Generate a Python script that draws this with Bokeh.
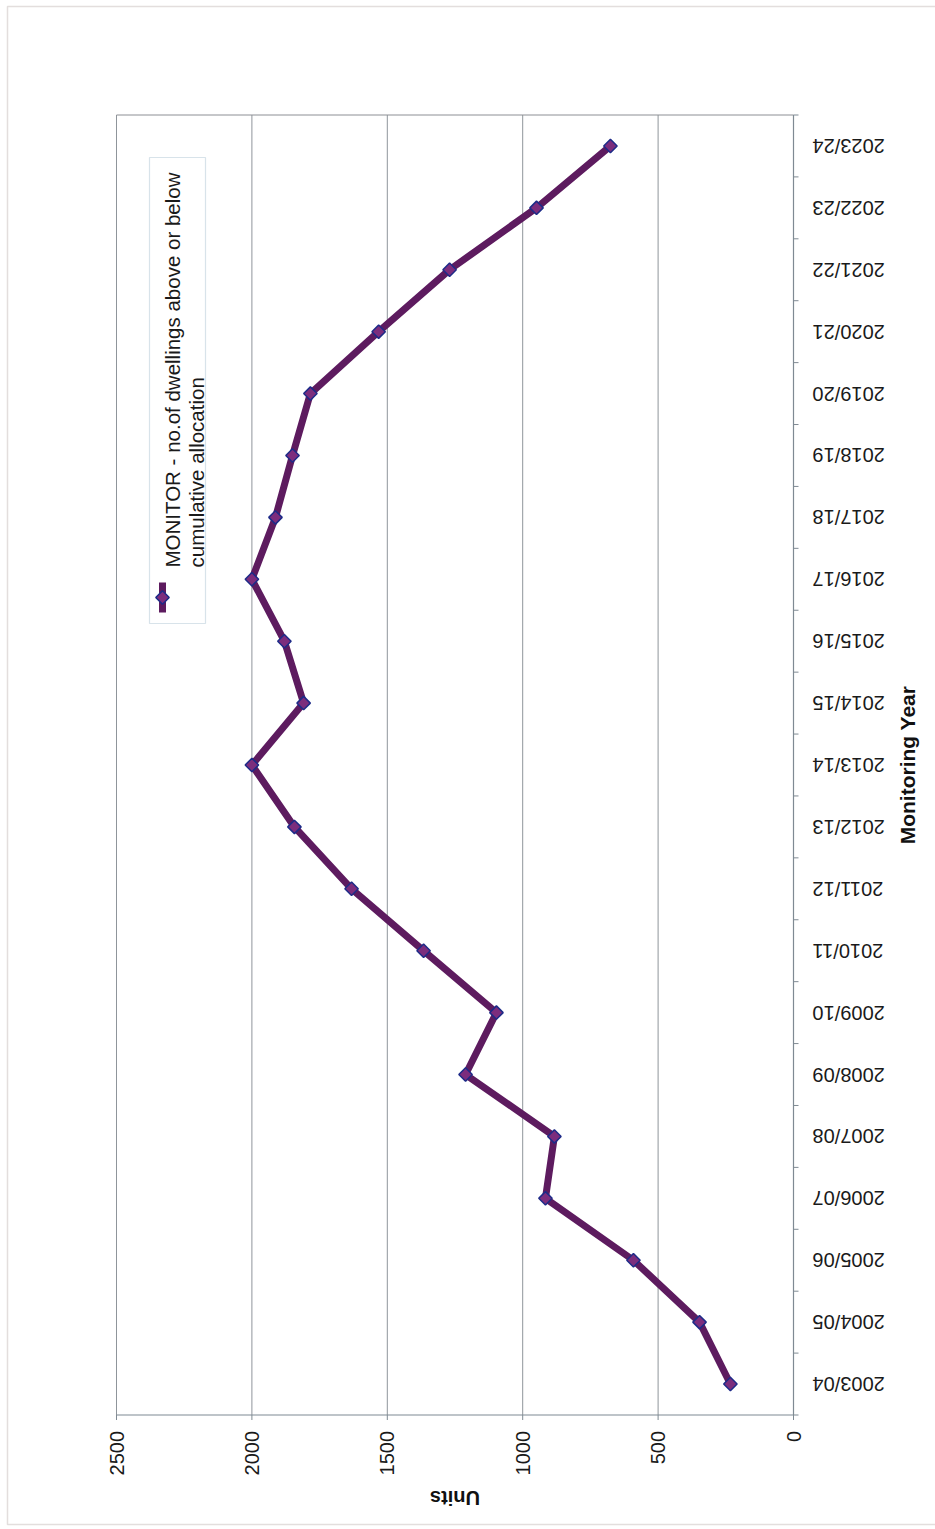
from math import pi

from bokeh.core.properties import value
from bokeh.embed import file_html
from bokeh.models import (BoxAnnotation, ColumnDataSource, FactorRange, Label, Range1d)
from bokeh.plotting import figure
from bokeh.resources import INLINE

# Monitoring years (bottom to top) and dwellings above/below cumulative allocation
years = ["2003/04", "2004/05", "2005/06", "2006/07", "2007/08", "2008/09", "2009/10",
         "2010/11", "2011/12", "2012/13", "2013/14", "2014/15", "2015/16", "2016/17",
         "2017/18", "2018/19", "2019/20", "2020/21", "2021/22", "2022/23", "2023/24"]
dwellings = [233, 347, 591, 916, 883, 1211, 1097, 1366, 1632, 1843, 2000, 1809, 1880,
             2000, 1913, 1850, 1784, 1532, 1270, 949, 676]
unit_ticks = [0, 500, 1000, 1500, 2000, 2500]

series_name = "MONITOR - no.of dwellings above or below\ncumulative allocation"
year_title = "Monitoring Year"
units_title = "Units"

# The chart sits sideways on a portrait page; the plotting frame covers the
# whole page so that the turned axes and titles can be drawn around the chart.
W, H = 935, 1529
FL, FR = 116, 793                      # chart left / right edges (px)
N = len(years)
SLOT = 1300 / N                        # pixels per year slot
PAD = (H / SLOT - N) / 2               # slots of page above and below the chart
FT = PAD * SLOT                        # chart top edge (px)
FB = FT + N * SLOT                     # chart bottom edge (px)
U_MAX = unit_ticks[-1]
FONT = "Liberation Sans"
AXIS_COLOR = "#7f8a93"
GRID_COLOR = "#8f959b"
TEXT_COLOR = "#1a1a1a"


def ux(px):
    """Units value at a horizontal page position."""
    return (FR - px) * U_MAX / (FR - FL)


def sy(py):
    """Synthetic year-slot coordinate at a vertical page position."""
    return N + PAD - py / SLOT


p = figure(width=W, height=H,
           x_range=Range1d(ux(0), ux(W)),
           y_range=FactorRange(factors=years, range_padding=PAD,
                               range_padding_units="absolute"),
           output_backend="svg", toolbar_location=None,
           min_border=0, x_axis_location=None, y_axis_location=None)
p.background_fill_color = "white"
p.border_fill_color = "white"
p.outline_line_color = None
p.grid.visible = False

source = ColumnDataSource(dict(year=years, dwellings=dwellings))

# ---- value axis (units), laid along the bottom --------------------------------
grid_src = ColumnDataSource(dict(u=unit_ticks, label=[str(t) for t in unit_ticks]))
p.segment(x0="u", y0=0, x1="u", y1=N, source=grid_src,
          line_color=GRID_COLOR, line_width=1)
p.segment(x0="u", y0=0, x1="u", y1=sy(FB + 5), source=grid_src,
          line_color=AXIS_COLOR, line_width=1)
p.segment(x0=U_MAX, y0=0, x1=0, y1=0, line_color=AXIS_COLOR, line_width=1.2)
p.text(x="u", y=sy(FB + 16), text="label", source=grid_src, angle=pi / 2,
       text_align="right", text_baseline="middle",
       text_font=value(FONT), text_font_size="20px", text_color=TEXT_COLOR)

# chart area top edge
p.segment(x0=U_MAX, y0=N, x1=0, y1=N, line_color="#8c8f94", line_width=1)

# ---- category axis (years), laid along the right --------------------------------
edge_src = ColumnDataSource(dict(edge=list(range(N + 1))))
p.segment(x0=0, y0=0, x1=0, y1=N, line_color=AXIS_COLOR, line_width=1.2)
p.segment(x0=0, y0="edge", x1=ux(FR + 5), y1="edge", source=edge_src,
          line_color=AXIS_COLOR, line_width=1)
p.text(x=ux(812), y="year", text="year", source=source, angle=pi,
       text_align="right", text_baseline="middle",
       text_font=value(FONT), text_font_size="20px", text_color=TEXT_COLOR)

# ---- series ----------------------------------------------------------------------
p.line(x="dwellings", y="year", source=source, line_color="#5d1b5f",
       line_width=7, line_join="round")
p.scatter(x="dwellings", y="year", source=source, marker="square", angle=pi / 4,
          size=9.5, fill_color="#7c2d7d", line_color="#1d2b88", line_width=1.5)

# ---- legend, turned with the chart ----------------------------------------------
p.add_layout(BoxAnnotation(left=ux(149), right=ux(205), top=sy(157), bottom=sy(623),
                           fill_color="white", fill_alpha=1.0,
                           line_color="#7fa3b9", line_width=1.2, level="underlay"))
p.segment(x0=ux(162), y0=sy(582), x1=ux(162), y1=sy(612),
          line_color="#5d1b5f", line_width=7)
p.scatter(x=[ux(162)], y=[sy(597)], marker="square", angle=pi / 4, size=9.5,
          fill_color="#7c2d7d", line_color="#1d2b88", line_width=1.5)
p.add_layout(Label(x=ux(160), y=sy(567), text=series_name, angle=pi / 2,
                   text_align="left", text_baseline="top",
                   text_font=FONT, text_font_size="20.5px", text_line_height=1.05,
                   text_color=TEXT_COLOR))

# ---- axis titles -----------------------------------------------------------------
p.add_layout(Label(x=U_MAX / 2, y=sy(1497), text=units_title, angle=pi,
                   text_align="center", text_baseline="middle",
                   text_font=FONT, text_font_size="20px", text_font_style="bold",
                   text_color="#111111"))
p.add_layout(Label(x=ux(907), y=N / 2, text=year_title, angle=pi / 2,
                   text_align="center", text_baseline="middle",
                   text_font=FONT, text_font_size="21px", text_font_style="bold",
                   text_color="#111111"))

# ---- page frame ------------------------------------------------------------------
p.add_layout(BoxAnnotation(left=ux(7), right=ux(990), top=sy(6), bottom=sy(1524),
                           fill_alpha=0, line_color="#a3918d", line_width=1.5))

open("out.html", "w").write(file_html(p, INLINE))
